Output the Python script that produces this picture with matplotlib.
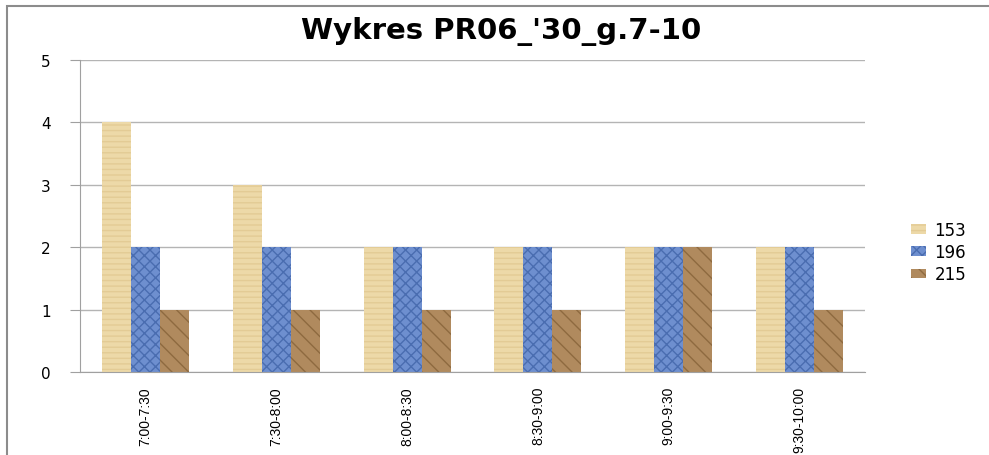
import matplotlib

matplotlib.use("Agg")
import matplotlib.pyplot as plt
from matplotlib.patches import Rectangle
import numpy as np

# data
categories = ["7:00-7:30", "7:30-8:00", "8:00-8:30", "8:30-9:00", "9:00-9:30", "9:30-10:00"]
series_names = ["153", "196", "215"]
values_153 = [4, 3, 2, 2, 2, 2]
values_196 = [2, 2, 2, 2, 2, 2]
values_215 = [1, 1, 1, 1, 2, 1]
y_ticks = [0, 1, 2, 3, 4, 5]

W, H = 989, 456
fig = plt.figure(figsize=(W / 100, H / 100), dpi=100)
ax = fig.add_axes([80 / W, 1 - 373 / H, 785 / W, 312 / H])

# texture-like looks via hatching
styles = [
    dict(color="#EDD9A8", hatch="---", edge="#E3CB95"),
    dict(color="#6E8FCF", hatch="xxx", edge="#4A6DB0"),
    dict(color="#B08A5E", hatch="\\\\", edge="#8E6A40"),
]
series = [values_153, values_196, values_215]

x = np.arange(len(categories))
bw = 29 / 130.8
for i, (vals, st, name) in enumerate(zip(series, styles, series_names)):
    bars = ax.bar(x + (i - 1) * bw, vals, width=bw, color=st["color"],
                  edgecolor=st["edge"], linewidth=0, hatch=st["hatch"], label=name,
                  zorder=2)
    for b in bars:
        b._hatch_color = matplotlib.colors.to_rgba(st["edge"])

ax.set_xlim(-0.5, len(categories) - 0.5)
ax.set_ylim(0, 5)
ax.set_yticks(y_ticks)
ax.set_xticks(x)
ax.set_xticklabels(categories, rotation=90, fontsize=10,
                   family=["Liberation Sans", "DejaVu Sans"])
ax.tick_params(axis="y", labelsize=11, length=7, color="#A0A0A0", pad=14)
ax.tick_params(axis="x", length=0, pad=10)
ax.grid(axis="y", color="#B4B4B4", linewidth=1, zorder=0)
for s in ["top", "right"]:
    ax.spines[s].set_visible(False)
for s in ["left", "bottom"]:
    ax.spines[s].set_color("#A0A0A0")

leg = fig.legend(loc="center left", bbox_to_anchor=(896 / W, 1 - 253 / H),
                 frameon=False, fontsize=12, handlelength=0.9, handleheight=0.5,
                 handletextpad=0.5, labelspacing=0.25)

fig.text(501 / W, 1 - 32 / H, "Wykres PR06_'30_g.7-10", ha="center", va="center",
         fontsize=21, fontweight="bold")

# outer chart frame (partly cut off in the reference)
fig.patches.append(Rectangle((7 / W, -0.1), 1.2, 1 - 7 / H + 0.1,
                             transform=fig.transFigure, fill=False,
                             edgecolor="#8C8C8C", linewidth=1.5))

fig.savefig("out.png", dpi=100)
